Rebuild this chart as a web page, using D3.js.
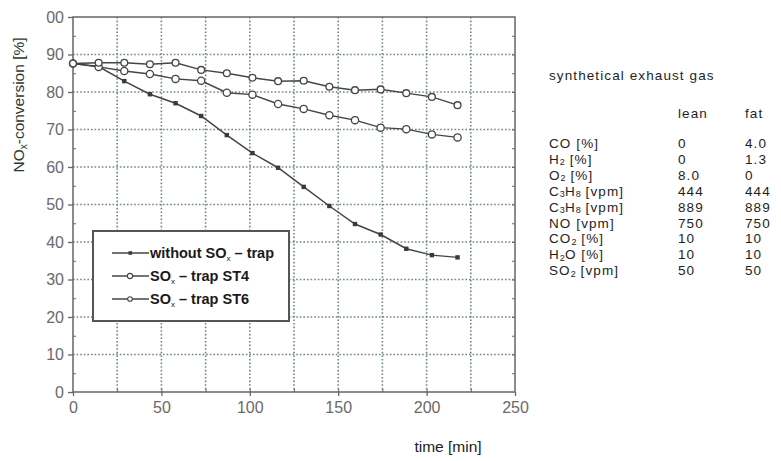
<!DOCTYPE html>
<html>
<head>
<meta charset="utf-8">
<script src="https://cdn.jsdelivr.net/npm/d3@7"></script>
<style>
  body { margin: 0; background: #fff; }
  text { font-family: "Liberation Sans", Arial, sans-serif; }
</style>
</head>
<body>
<div id="chart"></div>
<script>
'use strict'

// time in minutes, NOx conversion in %
const times = [0, 14.5, 29, 43.5, 58, 72.5, 87, 101.5, 116, 130.5, 145, 159.5, 174, 188.5, 203, 217.5]
const withoutTrap = [87.6, 86.8, 82.9, 79.4, 77.0, 73.6, 68.5, 63.7, 59.8, 54.7, 49.6, 44.8, 42.0, 38.2, 36.5, 35.9]
const trapST4 = [87.6, 86.7, 85.6, 84.8, 83.5, 83.0, 79.8, 79.3, 76.8, 75.5, 73.8, 72.5, 70.5, 70.1, 68.7, 67.9]
const trapST6 = [87.6, 87.8, 87.8, 87.4, 87.8, 85.9, 85.0, 83.8, 82.9, 83.0, 81.4, 80.5, 80.7, 79.7, 78.7, 76.5]

const xTicks = [0, 50, 100, 150, 200, 250]
const yTicks = [0, 10, 20, 30, 40, 50, 60, 70, 80, 90, 100]
const yTickLabels = ['0', '10', '20', '30', '40', '50', '60', '70', '80', '90', '00']

// gas table on the right
const gasNames = [
  ['CO', '', ' [%]'], ['H', '2', ' [%]'], ['O', '2', ' [%]'],
  ['C', '3', 'H', '8', ' [vpm]'], ['C', '3', 'H', '8', ' [vpm]'],
  ['NO', '', ' [vpm]'], ['CO', '2', ' [%]'], ['H', '2', 'O [%]'], ['SO', '2', ' [vpm]']
]
const leanValues = ['0', '0', '8.0', '444', '889', '750', '10', '10', '50']
const fatValues = ['4.0', '1.3', '0', '444', '889', '750', '10', '10', '50']

const W = 781, H = 461
const margin = { top: 17, right: 266, bottom: 69, left: 73 }
const width = W - margin.left - margin.right
const height = H - margin.top - margin.bottom

const svg = d3.select('#chart').append('svg')
  .attr('width', W).attr('height', H)

const g = svg.append('g')
  .attr('transform', `translate(${margin.left},${margin.top})`)

const x = d3.scaleLinear().domain([0, 250]).range([0, width])
const y = d3.scaleLinear().domain([0, 100]).range([height, 0])

const gridColor = '#6d8a74'
const axisColor = '#666'
const lineColor = '#454545'

// dotted grid
g.append('g').selectAll('line')
  .data(d3.range(25, 250, 25))
  .join('line')
    .attr('x1', d => x(d)).attr('x2', d => x(d))
    .attr('y1', 0).attr('y2', height)
    .attr('stroke', gridColor).attr('stroke-width', 1.6)
    .attr('stroke-dasharray', '1.6,2')

g.append('g').selectAll('line')
  .data(d3.range(10, 100, 10))
  .join('line')
    .attr('x1', 0).attr('x2', width)
    .attr('y1', d => y(d)).attr('y2', d => y(d))
    .attr('stroke', gridColor).attr('stroke-width', 1.6)
    .attr('stroke-dasharray', '1.6,2')

// frame
g.append('rect')
  .attr('width', width).attr('height', height)
  .attr('fill', 'none').attr('stroke', axisColor).attr('stroke-width', 1.5)

// minor ticks
g.append('g')
  .call(d3.axisRight(y).tickValues(d3.range(5, 100, 10)).tickSize(3).tickFormat(''))
  .call(a => a.select('.domain').remove())
  .selectAll('line').attr('stroke', axisColor)
g.append('g')
  .attr('transform', `translate(${width},0)`)
  .call(d3.axisLeft(y).tickValues(d3.range(5, 100, 5)).tickSize(3).tickFormat(''))
  .call(a => a.select('.domain').remove())
  .selectAll('line').attr('stroke', axisColor)
g.append('g')
  .attr('transform', `translate(0,${height})`)
  .call(d3.axisTop(x).tickValues(d3.range(25, 250, 25)).tickSize(3).tickFormat(''))
  .call(a => a.select('.domain').remove())
  .selectAll('line').attr('stroke', axisColor)

// main axes
const yAxis = g.append('g')
  .call(d3.axisLeft(y).tickValues(yTicks).tickSize(5).tickPadding(4)
    .tickFormat((d, i) => yTickLabels[i]))
yAxis.select('.domain').remove()
yAxis.selectAll('line').attr('stroke', axisColor).attr('stroke-width', 1.3)
yAxis.selectAll('text').attr('fill', '#6a6a6a').style('font-size', '16px')

const xAxis = g.append('g')
  .attr('transform', `translate(0,${height})`)
  .call(d3.axisBottom(x).tickValues(xTicks).tickSize(4).tickPadding(6))
xAxis.select('.domain').remove()
xAxis.selectAll('line').attr('stroke', axisColor).attr('stroke-width', 1.3)
xAxis.selectAll('text').attr('fill', '#6a6a6a').style('font-size', '16px')

// axis titles
const yTitle = svg.append('text')
  .attr('transform', `translate(24,105) rotate(-90)`)
  .attr('text-anchor', 'middle')
  .attr('fill', '#2a3a30').style('font-size', '15.5px')
yTitle.append('tspan').text('NO')
yTitle.append('tspan').text('x').attr('dy', 3).style('font-size', '10px')
yTitle.append('tspan').text('-conversion [%]').attr('dy', -3)

svg.append('text')
  .attr('x', 448).attr('y', 452)
  .attr('text-anchor', 'middle')
  .attr('fill', '#222').style('font-size', '15.5px')
  .text('time [min]')

// series
const series = [
  { name: 'without', values: withoutTrap, marker: 'square' },
  { name: 'ST4', values: trapST4, marker: 'circle', r: 3.6 },
  { name: 'ST6', values: trapST6, marker: 'circle', r: 3.4 }
]

const line = d3.line().x(d => x(d[0])).y(d => y(d[1]))

series.forEach(s => {
  const pts = times.map((t, i) => [t, s.values[i]])
  g.append('path')
    .datum(pts)
    .attr('fill', 'none').attr('stroke', lineColor).attr('stroke-width', 1.5)
    .attr('d', line)
  if (s.marker === 'square') {
    g.append('g').selectAll('rect')
      .data(pts).join('rect')
        .attr('x', d => x(d[0]) - 2.2).attr('y', d => y(d[1]) - 2.2)
        .attr('width', 4.4).attr('height', 4.4)
        .attr('fill', '#3a3a3a')
  } else {
    g.append('g').selectAll('circle')
      .data(pts).join('circle')
        .attr('cx', d => x(d[0])).attr('cy', d => y(d[1]))
        .attr('r', s.r)
        .attr('fill', '#fff').attr('stroke', lineColor).attr('stroke-width', 1.3)
  }
})

// legend
const legend = svg.append('g').attr('transform', 'translate(93,231)')
legend.append('rect')
  .attr('width', 196).attr('height', 90)
  .attr('fill', '#fff').attr('stroke', '#555').attr('stroke-width', 2)

const legendRows = [
  { label: ['without SO', 'x', ' \u2013 trap'], marker: 'square', r: 0 },
  { label: ['SO', 'x', ' \u2013 trap ST4'], marker: 'circle', r: 2.6 },
  { label: ['SO', 'x', ' \u2013 trap ST6'], marker: 'circle', r: 2.3 }
]
legendRows.forEach((row, i) => {
  const ly = 22 + i * 23
  const lg = legend.append('g').attr('transform', `translate(0,${ly})`)
  lg.append('line').attr('x1', 19).attr('x2', 56).attr('y1', 0).attr('y2', 0)
    .attr('stroke', lineColor).attr('stroke-width', 1.4)
  if (row.marker === 'square') {
    lg.append('rect').attr('x', 35.5).attr('y', -1.8).attr('width', 3.6).attr('height', 3.6)
      .attr('fill', '#3a3a3a')
  } else {
    lg.append('circle').attr('cx', 37).attr('cy', 0).attr('r', row.r)
      .attr('fill', '#fff').attr('stroke', lineColor).attr('stroke-width', 1.1)
  }
  const t = lg.append('text').attr('x', 57).attr('y', 5)
    .attr('fill', '#1a1a1a').style('font-size', '14.5px').style('font-weight', 'bold')
  t.append('tspan').text(row.label[0])
  t.append('tspan').text(row.label[1]).attr('dy', 3).style('font-size', '8px').style('font-weight', 'normal')
  t.append('tspan').text(row.label[2]).attr('dy', -3)
})

// gas table
const table = svg.append('g').attr('fill', '#1e1e1e')
  .style('font-size', '13.5px').style('letter-spacing', '1.1px')
table.append('text').attr('x', 549).attr('y', 80).text('synthetical exhaust gas')
table.append('text').attr('x', 678).attr('y', 118).text('lean')
table.append('text').attr('x', 745).attr('y', 118).text('fat')

gasNames.forEach((parts, i) => {
  const ry = 148 + i * 15.9
  const t = table.append('text').attr('x', 549).attr('y', ry)
  parts.forEach((p, j) => {
    if (!p) return
    const sub = j % 2 === 1 && p.length === 1 && /\d/.test(p)
    const ts = t.append('tspan').text(p)
    if (sub) ts.attr('dy', 1.5).style('font-size', '9px').style('letter-spacing', '0px')
    else if (j > 0 && /\d/.test(parts[j - 1]) && parts[j - 1].length === 1) ts.attr('dy', -1.5)
  })
  table.append('text').attr('x', 678).attr('y', ry).text(leanValues[i])
  table.append('text').attr('x', 745).attr('y', ry).text(fatValues[i])
})
</script>
</body>
</html>
